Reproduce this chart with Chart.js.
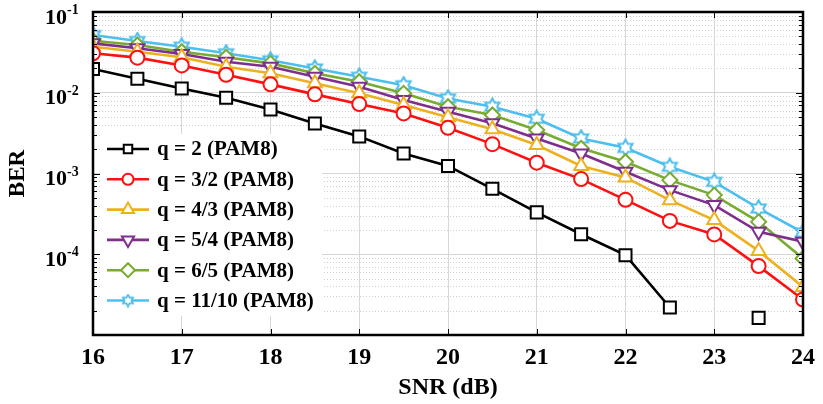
<!DOCTYPE html>
<html>
<head>
<meta charset="utf-8">
<script src="https://cdn.jsdelivr.net/npm/chart.js@4.4.1/dist/chart.umd.min.js"></script>
<style>
html, body { margin: 0; padding: 0; background: #fff; }
#wrap { width: 823px; height: 404px; }
</style>
</head>
<body>
<div id="wrap"><canvas id="c" width="823" height="404"></canvas></div>
<script>
'use strict';

// SNR sweep (dB)
const snr = [16, 16.5, 17, 17.5, 18, 18.5, 19, 19.5, 20, 20.5, 21, 21.5, 22, 22.5, 23, 23.5, 24];

// BER, one array per q
const berQ2 = [0.0197, 0.0149, 0.0113, 0.00867, 0.00622, 0.00417, 0.00288, 0.00177, 0.00124, 6.46e-4, 3.30e-4, 1.77e-4, 9.75e-5, 2.19e-5, null, 1.63e-5, null];
const berQ32 = [0.0308, 0.0272, 0.0218, 0.0167, 0.0127, 0.00955, 0.00724, 0.00555, 0.00368, 0.00231, 0.00136, 8.53e-4, 4.72e-4, 2.59e-4, 1.76e-4, 7.13e-5, 2.75e-5];
const berQ43 = [0.0372, 0.0322, 0.0275, 0.0210, 0.0174, 0.0131, 0.00984, 0.00705, 0.00496, 0.00352, 0.00225, 0.00124, 8.95e-4, 4.68e-4, 2.65e-4, 1.10e-4, 3.94e-5];
const berQ54 = [0.0409, 0.0355, 0.0302, 0.0242, 0.0210, 0.0158, 0.0119, 0.00813, 0.00582, 0.00418, 0.00272, 0.00177, 0.00105, 6.22e-4, 4.06e-4, 1.90e-4, 1.43e-4];
const berQ65 = [0.0441, 0.0390, 0.0322, 0.0275, 0.0231, 0.0174, 0.0137, 0.00984, 0.00671, 0.00530, 0.00345, 0.00205, 0.00140, 8.28e-4, 5.40e-4, 2.52e-4, 8.87e-5];
const berQ1110 = [0.0519, 0.0437, 0.0372, 0.0308, 0.0252, 0.0200, 0.0158, 0.0124, 0.00851, 0.00671, 0.00477, 0.00272, 0.00208, 0.00121, 7.88e-4, 3.69e-4, 1.86e-4];

const seriesNames = ['q = 2 (PAM8)', 'q = 3/2 (PAM8)', 'q = 4/3 (PAM8)', 'q = 5/4 (PAM8)', 'q = 6/5 (PAM8)', 'q = 11/10 (PAM8)'];
const yDecades = [1e-5, 1e-4, 1e-3, 1e-2, 1e-1];
const yExponents = ['-5', '-4', '-3', '-2', '-1'];
const xTicks = [16, 17, 18, 19, 20, 21, 22, 23, 24];

const serif = '"Liberation Serif", "Times New Roman", serif';

function hexagram(size, color, lw) {
    const c = document.createElement('canvas');
    c.width = size;
    c.height = size;
    const g = c.getContext('2d');
    const m = size / 2;
    const r = size / 2 - lw / 2 - 0.3;
    g.beginPath();
    for (let i = 0; i < 12; i += 1) {
        const a = -Math.PI / 2 + i * Math.PI / 6;
        const rr = i % 2 ? r / Math.sqrt(3) : r;
        const px = m + rr * Math.cos(a);
        const py = m + rr * Math.sin(a);
        if (i === 0) g.moveTo(px, py); else g.lineTo(px, py);
    }
    g.closePath();
    g.fillStyle = '#fff';
    g.fill();
    g.lineWidth = lw;
    g.strokeStyle = color;
    g.stroke();
    return c;
}

const cyan = '#4DBEEE';
const starBig = hexagram(19, cyan, 2);
const starSmall = hexagram(14, cyan, 1.8);

function series(label, values, color, style, radius, rotation, legendStyle, legendRadius) {
    return {
        label: label,
        data: values.map((v, i) => ({x: snr[i], y: v})),
        borderColor: color,
        backgroundColor: color,
        borderWidth: 2.6,
        tension: 0,
        spanGaps: false,
        pointStyle: style,
        pointRotation: rotation,
        pointRadius: radius,
        pointHoverRadius: radius,
        pointBorderWidth: 2,
        pointBorderColor: color,
        pointBackgroundColor: '#fff',
        clip: 0,
        legendStyle: legendStyle,
        legendRadius: legendRadius,
    };
}

const datasets = [
    series(seriesNames[0], berQ2, '#000000', 'rect', 8.5, 0, 'rect', 6),
    series(seriesNames[1], berQ32, '#FF1010', 'circle', 7, 0, 'circle', 5.5),
    series(seriesNames[2], berQ43, '#EDB120', 'triangle', 8, 0, 'triangle', 7),
    series(seriesNames[3], berQ54, '#7E2F8E', 'triangle', 8, 180, 'triangle', 7),
    series(seriesNames[4], berQ65, '#77AC30', 'rectRot', 7.5, 0, 'rectRot', 7),
    series(seriesNames[5], berQ1110, cyan, starBig, 9, 0, starSmall, 7),
];

function line(ctx, x1, y1, x2, y2) {
    ctx.beginPath();
    ctx.moveTo(x1, y1);
    ctx.lineTo(x2, y2);
    ctx.stroke();
}

const minorGrid = {
    id: 'minorGrid',
    beforeDatasetsDraw(chart) {
        const {ctx, chartArea: a, scales: {y}} = chart;
        ctx.save();
        ctx.strokeStyle = '#cfcfcf';
        ctx.lineWidth = 1;
        ctx.setLineDash([1, 2]);
        for (let d = 0; d < yDecades.length - 1; d += 1) {
            for (let k = 2; k < 10; k += 1) {
                const py = Math.round(y.getPixelForValue(yDecades[d] * k)) + 0.5;
                line(ctx, a.left, py, a.right, py);
            }
        }
        ctx.restore();
    },
};

const frame = {
    id: 'frame',
    afterDatasetsDraw(chart) {
        const {ctx, chartArea: a, scales: {x, y}} = chart;
        ctx.save();
        ctx.strokeStyle = '#000';
        ctx.lineWidth = 1;
        xTicks.forEach(t => {
            const px = Math.round(x.getPixelForValue(t)) + 0.5;
            line(ctx, px, a.bottom, px, a.bottom - 6);
            line(ctx, px, a.top, px, a.top + 6);
        });
        for (let d = 0; d < yDecades.length; d += 1) {
            const py = Math.round(y.getPixelForValue(yDecades[d])) + 0.5;
            line(ctx, a.left, py, a.left + 7, py);
            line(ctx, a.right, py, a.right - 7, py);
            if (d === yDecades.length - 1) break;
            for (let k = 2; k < 10; k += 1) {
                const pm = Math.round(y.getPixelForValue(yDecades[d] * k)) + 0.5;
                line(ctx, a.left, pm, a.left + 4, pm);
                line(ctx, a.right, pm, a.right - 4, pm);
            }
        }
        ctx.lineWidth = 2.5;
        ctx.strokeRect(a.left, a.top, a.right - a.left, a.bottom - a.top);
        ctx.restore();
    },
    afterDraw(chart) {
        const {ctx, scales: {y}} = chart;
        ctx.save();
        ctx.fillStyle = '#000';
        ctx.textBaseline = 'alphabetic';
        yDecades.forEach((d, i) => {
            if (i === 0) return;
            const py = y.getPixelForValue(d);
            ctx.font = 'bold 22px ' + serif;
            ctx.textAlign = 'right';
            ctx.fillText('10', 67, py + 11.5);
            ctx.font = 'bold 14px ' + serif;
            ctx.textAlign = 'left';
            ctx.fillText(yExponents[i], 67, py + 2);
        });
        ctx.restore();
    },
};

const insideLegend = {
    id: 'insideLegend',
    afterDatasetsDraw(chart) {
        const {ctx} = chart;
        const helpers = Chart.helpers;
        ctx.save();
        ctx.fillStyle = '#fff';
        ctx.fillRect(100, 134, 222, 182);
        chart.data.datasets.forEach((ds, i) => {
            const cy = 149 + i * 30.3;
            ctx.strokeStyle = ds.borderColor;
            ctx.lineWidth = 2.6;
            ctx.setLineDash([]);
            line(ctx, 107, cy, 149, cy);
            ctx.fillStyle = '#fff';
            ctx.lineWidth = 2;
            helpers.drawPoint(ctx, {
                pointStyle: ds.legendStyle,
                rotation: ds.pointRotation,
                radius: ds.legendRadius,
                borderWidth: 2,
            }, 128, cy);
            ctx.fillStyle = '#000';
            ctx.font = 'bold 21px ' + serif;
            ctx.textAlign = 'left';
            ctx.textBaseline = 'middle';
            ctx.fillText(ds.label, 157, cy + 1);
        });
        ctx.restore();
    },
};

new Chart(document.getElementById('c').getContext('2d'), {
    type: 'line',
    data: {datasets: datasets},
    options: {
        responsive: false,
        animation: false,
        events: [],
        layout: {padding: {top: 12, right: 14, left: 0, bottom: 0}},
        plugins: {
            legend: {display: false},
            tooltip: {enabled: false},
        },
        scales: {
            x: {
                type: 'linear',
                min: 16,
                max: 24,
                afterBuildTicks: s => { s.ticks = xTicks.map(v => ({value: v})); },
                afterFit: s => { s.height = 69; },
                grid: {color: '#d6d6d6', lineWidth: 1, drawTicks: false},
                border: {display: false},
                ticks: {
                    color: '#000',
                    padding: 8,
                    font: {family: serif, size: 24, weight: 'bold'},
                },
                title: {
                    display: true,
                    text: 'SNR (dB)',
                    color: '#000',
                    font: {family: serif, size: 24, weight: 'bold', lineHeight: 1},
                    padding: {top: 0, bottom: 4},
                },
            },
            y: {
                type: 'logarithmic',
                min: 1e-5,
                max: 1e-1,
                afterBuildTicks: s => { s.ticks = yDecades.map(v => ({value: v, major: true})); },
                afterFit: s => { s.width = 93; },
                grid: {color: '#d6d6d6', lineWidth: 1, drawTicks: false},
                border: {display: false},
                ticks: {display: false},
                title: {
                    display: true,
                    text: 'BER',
                    color: '#000',
                    font: {family: serif, size: 23, weight: 'bold', lineHeight: 1},
                    padding: {top: 7, bottom: 0},
                },
            },
        },
    },
    plugins: [minorGrid, frame, insideLegend],
});
</script>
</body>
</html>
